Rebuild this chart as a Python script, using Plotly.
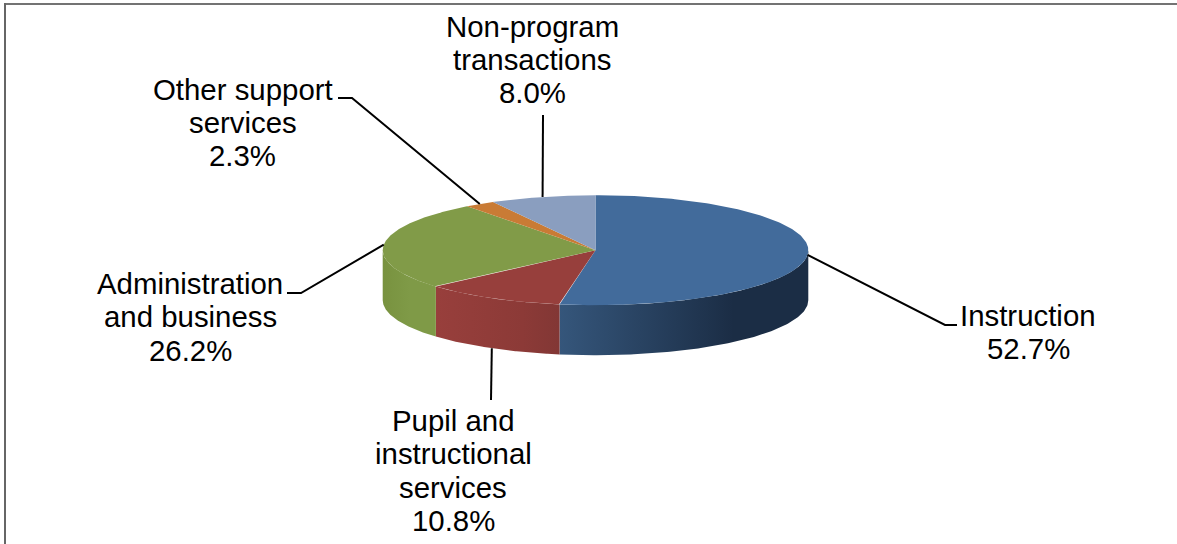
import numpy as np
import plotly.graph_objects as go

categories = ["Instruction", "Pupil and instructional services", "Administration and business",
              "Other support services", "Non-program transactions"]
values = [52.7, 10.8, 26.2, 2.3, 8.0]
label_lines = [["Instruction", "52.7%"],
               ["Pupil and", "instructional", "services", "10.8%"],
               ["Administration", "and business", "26.2%"],
               ["Other support", "services", "2.3%"],
               ["Non-program", "transactions", "8.0%"]]
top_colors = ["#426b9b", "#973f3c", "#819b48", "#c97b35", "#8a9ebf"]
side_scales = [[[0, "#35567b"], [0.7, "#1b2d45"], [1, "#1b2d45"]],
               [[0, "#983f3c"], [0.7, "#8c3a37"], [1, "#823735"]],
               [[0, "#78923f"], [0.5, "#7f9a47"], [1, "#7f9a47"]],
               [[0, "#c97b35"], [1, "#c97b35"]],
               [[0, "#8a9ebf"], [1, "#8a9ebf"]]]
# layout (pixels of the page)
cx, cy, rx, ry, depth = 595.5, 250.2, 212.8, 55.0, 50.0
label_pos = [(1028, 315.5), (453, 420.5), (190, 283.5), (242.5, 89), (532, 26)]
line_step = 33.4
elbows = [[(945, 325), (957, 325)], [(491, 400)], [(301, 293), (287, 293)],
          [(352, 98), (338, 98)], [(543, 115)]]
FONT = "Liberation Sans, Arial, sans-serif"

def ex(t):
    return cx + rx * np.sin(t)

def ey(t):
    return cy - ry * np.cos(t)

cum = np.concatenate([[0], np.cumsum(values)]) / sum(values) * 2 * np.pi
fig = go.Figure()

# side walls (front half of the ellipse only)
for i, name in enumerate(categories):
    a, b = max(cum[i], np.pi / 2), min(cum[i + 1], 3 * np.pi / 2)
    if b <= a:
        continue
    t = np.linspace(a, b, 120)
    xs = np.concatenate([ex(t), ex(t[::-1])])
    ys = np.concatenate([ey(t), ey(t[::-1]) + depth])
    fig.add_trace(go.Scatter(x=xs, y=ys, mode="lines", line=dict(width=0), fill="toself",
                             fillgradient=dict(type="horizontal", colorscale=side_scales[i]),
                             hoverinfo="skip", showlegend=False, name=name))

# top faces
for i, name in enumerate(categories):
    t = np.linspace(cum[i], cum[i + 1], 200)
    xs = np.concatenate([[cx], ex(t), [cx]])
    ys = np.concatenate([[cy], ey(t), [cy]])
    fig.add_trace(go.Scatter(x=xs, y=ys, mode="lines", line=dict(width=0), fill="toself",
                             fillcolor=top_colors[i], hoverinfo="skip", showlegend=False, name=name))

# leader lines
for i, name in enumerate(categories):
    mid = (cum[i] + cum[i + 1]) / 2
    y0 = ey(mid) + (depth if np.pi / 2 + 0.6 < mid < 3 * np.pi / 2 - 0.6 else 0)
    xs = [ex(mid)] + [p[0] for p in elbows[i]]
    ys = [y0] + [p[1] for p in elbows[i]]
    fig.add_trace(go.Scatter(x=xs, y=ys, mode="lines", line=dict(color="#000000", width=2),
                             hoverinfo="skip", showlegend=False))

# labels
annotations = []
for lines, (lx, ly) in zip(label_lines, label_pos):
    for j, text in enumerate(lines):
        annotations.append(dict(x=lx, y=ly + j * line_step, text=text, showarrow=False,
                                xanchor="center", yanchor="middle", xref="x", yref="y",
                                font=dict(family=FONT, size=29.4, color="#000000")))

frame = [dict(type="line", xref="x", yref="y", x0=5, x1=1177, y0=4, y1=4,
              line=dict(color="#444444", width=1.6)),
         dict(type="line", xref="x", yref="y", x0=5, x1=5, y0=3, y1=544,
              line=dict(color="#666666", width=2))]

fig.update_layout(width=1177, height=544, margin=dict(l=0, r=0, t=0, b=0),
                  paper_bgcolor="#ffffff", plot_bgcolor="#ffffff", showlegend=False,
                  xaxis=dict(range=[0, 1177], visible=False, fixedrange=True),
                  yaxis=dict(range=[544, 0], visible=False, fixedrange=True),
                  annotations=annotations, shapes=frame)

fig.write_html("out.html", config=dict(displayModeBar=False),
               post_script="document.body.style.margin='0';document.body.style.overflow='hidden';")
